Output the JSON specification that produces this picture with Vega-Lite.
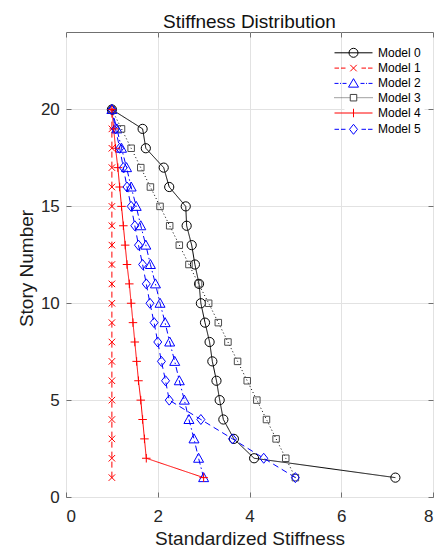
{
  "$schema": "https://vega.github.io/schema/vega-lite/v6.json",
  "width": 367,
  "height": 465,
  "autosize": "none",
  "padding": {"left": 66, "top": 32, "right": 8, "bottom": 52},
  "background": "white",
  "config": {
    "font": "Liberation Sans",
    "view": {"stroke": "#707070", "strokeWidth": 1},
    "axis": {
      "domain": false,
      "tickColor": "#707070",
      "tickSize": -5,
      "labelFont": "Liberation Sans",
      "labelFontSize": 17,
      "labelColor": "#262626",
      "titleFont": "Liberation Sans",
      "titleFontSize": 19,
      "titleFontWeight": "normal",
      "titleColor": "#1a1a1a",
      "gridColor": "#e2e2e2",
      "gridWidth": 1
    }
  },
  "title": {
    "text": "Stiffness Distribution",
    "font": "Liberation Sans",
    "fontSize": 19,
    "fontWeight": "normal",
    "color": "#111111",
    "anchor": "middle",
    "baseline": "alphabetic",
    "offset": 6,
    "dy": 21
  },
  "data": {
    "values": [
      {"m": "Model 0", "s": 1, "k": 7.18}, {"m": "Model 0", "s": 2, "k": 4.10}, {"m": "Model 0", "s": 3, "k": 3.66}, {"m": "Model 0", "s": 4, "k": 3.43}, {"m": "Model 0", "s": 5, "k": 3.35},
      {"m": "Model 0", "s": 6, "k": 3.28}, {"m": "Model 0", "s": 7, "k": 3.19}, {"m": "Model 0", "s": 8, "k": 3.13}, {"m": "Model 0", "s": 9, "k": 3.03}, {"m": "Model 0", "s": 10, "k": 2.94},
      {"m": "Model 0", "s": 11, "k": 2.90}, {"m": "Model 0", "s": 12, "k": 2.81}, {"m": "Model 0", "s": 13, "k": 2.74}, {"m": "Model 0", "s": 14, "k": 2.63}, {"m": "Model 0", "s": 15, "k": 2.61},
      {"m": "Model 0", "s": 16, "k": 2.25}, {"m": "Model 0", "s": 17, "k": 2.13}, {"m": "Model 0", "s": 18, "k": 1.74}, {"m": "Model 0", "s": 19, "k": 1.67}, {"m": "Model 0", "s": 20, "k": 1.00},
      {"m": "Model 1", "s": 1, "k": 1.0}, {"m": "Model 1", "s": 2, "k": 1.0}, {"m": "Model 1", "s": 3, "k": 1.0}, {"m": "Model 1", "s": 4, "k": 1.0}, {"m": "Model 1", "s": 5, "k": 1.0},
      {"m": "Model 1", "s": 6, "k": 1.0}, {"m": "Model 1", "s": 7, "k": 1.0}, {"m": "Model 1", "s": 8, "k": 1.0}, {"m": "Model 1", "s": 9, "k": 1.0}, {"m": "Model 1", "s": 10, "k": 1.0},
      {"m": "Model 1", "s": 11, "k": 1.0}, {"m": "Model 1", "s": 12, "k": 1.0}, {"m": "Model 1", "s": 13, "k": 1.0}, {"m": "Model 1", "s": 14, "k": 1.0}, {"m": "Model 1", "s": 15, "k": 1.0},
      {"m": "Model 1", "s": 16, "k": 1.0}, {"m": "Model 1", "s": 17, "k": 1.0}, {"m": "Model 1", "s": 18, "k": 1.0}, {"m": "Model 1", "s": 19, "k": 1.0}, {"m": "Model 1", "s": 20, "k": 1.0},
      {"m": "Model 2", "s": 1, "k": 3.00}, {"m": "Model 2", "s": 2, "k": 2.89}, {"m": "Model 2", "s": 3, "k": 2.79}, {"m": "Model 2", "s": 4, "k": 2.68}, {"m": "Model 2", "s": 5, "k": 2.58},
      {"m": "Model 2", "s": 6, "k": 2.47}, {"m": "Model 2", "s": 7, "k": 2.37}, {"m": "Model 2", "s": 8, "k": 2.26}, {"m": "Model 2", "s": 9, "k": 2.16}, {"m": "Model 2", "s": 10, "k": 2.05},
      {"m": "Model 2", "s": 11, "k": 1.95}, {"m": "Model 2", "s": 12, "k": 1.84}, {"m": "Model 2", "s": 13, "k": 1.74}, {"m": "Model 2", "s": 14, "k": 1.63}, {"m": "Model 2", "s": 15, "k": 1.53},
      {"m": "Model 2", "s": 16, "k": 1.42}, {"m": "Model 2", "s": 17, "k": 1.32}, {"m": "Model 2", "s": 18, "k": 1.21}, {"m": "Model 2", "s": 19, "k": 1.11}, {"m": "Model 2", "s": 20, "k": 1.00},
      {"m": "Model 3", "s": 1, "k": 5.00}, {"m": "Model 3", "s": 2, "k": 4.79}, {"m": "Model 3", "s": 3, "k": 4.58}, {"m": "Model 3", "s": 4, "k": 4.37}, {"m": "Model 3", "s": 5, "k": 4.16},
      {"m": "Model 3", "s": 6, "k": 3.95}, {"m": "Model 3", "s": 7, "k": 3.74}, {"m": "Model 3", "s": 8, "k": 3.53}, {"m": "Model 3", "s": 9, "k": 3.32}, {"m": "Model 3", "s": 10, "k": 3.11},
      {"m": "Model 3", "s": 11, "k": 2.89}, {"m": "Model 3", "s": 12, "k": 2.68}, {"m": "Model 3", "s": 13, "k": 2.47}, {"m": "Model 3", "s": 14, "k": 2.26}, {"m": "Model 3", "s": 15, "k": 2.05},
      {"m": "Model 3", "s": 16, "k": 1.84}, {"m": "Model 3", "s": 17, "k": 1.63}, {"m": "Model 3", "s": 18, "k": 1.42}, {"m": "Model 3", "s": 19, "k": 1.21}, {"m": "Model 3", "s": 20, "k": 1.00},
      {"m": "Model 4", "s": 1, "k": 3.00}, {"m": "Model 4", "s": 2, "k": 1.75}, {"m": "Model 4", "s": 3, "k": 1.71}, {"m": "Model 4", "s": 4, "k": 1.67}, {"m": "Model 4", "s": 5, "k": 1.63},
      {"m": "Model 4", "s": 6, "k": 1.58}, {"m": "Model 4", "s": 7, "k": 1.54}, {"m": "Model 4", "s": 8, "k": 1.50}, {"m": "Model 4", "s": 9, "k": 1.46}, {"m": "Model 4", "s": 10, "k": 1.42},
      {"m": "Model 4", "s": 11, "k": 1.38}, {"m": "Model 4", "s": 12, "k": 1.33}, {"m": "Model 4", "s": 13, "k": 1.29}, {"m": "Model 4", "s": 14, "k": 1.25}, {"m": "Model 4", "s": 15, "k": 1.21},
      {"m": "Model 4", "s": 16, "k": 1.17}, {"m": "Model 4", "s": 17, "k": 1.13}, {"m": "Model 4", "s": 18, "k": 1.08}, {"m": "Model 4", "s": 19, "k": 1.04}, {"m": "Model 4", "s": 20, "k": 1.00},
      {"m": "Model 5", "s": 1, "k": 5.00}, {"m": "Model 5", "s": 2, "k": 4.31}, {"m": "Model 5", "s": 3, "k": 3.63}, {"m": "Model 5", "s": 4, "k": 2.94}, {"m": "Model 5", "s": 5, "k": 2.25},
      {"m": "Model 5", "s": 6, "k": 2.17}, {"m": "Model 5", "s": 7, "k": 2.08}, {"m": "Model 5", "s": 8, "k": 2.00}, {"m": "Model 5", "s": 9, "k": 1.92}, {"m": "Model 5", "s": 10, "k": 1.83},
      {"m": "Model 5", "s": 11, "k": 1.75}, {"m": "Model 5", "s": 12, "k": 1.67}, {"m": "Model 5", "s": 13, "k": 1.58}, {"m": "Model 5", "s": 14, "k": 1.50}, {"m": "Model 5", "s": 15, "k": 1.42},
      {"m": "Model 5", "s": 16, "k": 1.33}, {"m": "Model 5", "s": 17, "k": 1.25}, {"m": "Model 5", "s": 18, "k": 1.17}, {"m": "Model 5", "s": 19, "k": 1.08}, {"m": "Model 5", "s": 20, "k": 1.00}
    ]
  },
  "layer": [
    {
      "mark": {"type": "line", "strokeWidth": 1},
      "encoding": {
        "x": {
          "field": "k", "type": "quantitative",
          "scale": {"domain": [0, 8], "nice": false, "zero": false},
          "axis": {"orient": "bottom", "values": [0, 2, 4, 6, 8], "title": "Standardized Stiffness", "grid": true, "labelPadding": 16, "titleBaseline": "alphabetic", "titleY": 47}
        },
        "y": {
          "field": "s", "type": "quantitative",
          "scale": {"domain": [0, 24], "nice": false, "zero": false},
          "axis": {"orient": "left", "values": [0, 5, 10, 15, 20], "title": "Story Number", "grid": true, "labelPadding": 11.7, "titleBaseline": "alphabetic", "titleX": -33.3, "titleY": 236, "titleAngle": 270}
        },
        "color": {
          "field": "m", "type": "nominal",
          "scale": {"domain": ["Model 0", "Model 1", "Model 2", "Model 3", "Model 4", "Model 5"], "range": ["#000000", "#ff0000", "#0000ff", "#000000", "#ff0000", "#0000ff"]},
          "legend": null
        },
        "strokeDash": {
          "field": "m", "type": "nominal",
          "scale": {"domain": ["Model 0", "Model 1", "Model 2", "Model 3", "Model 4", "Model 5"], "range": [[1, 0], [6, 4], [6, 3, 1.5, 3], [1, 2.5], [1, 0], [6, 4]]},
          "legend": null
        },
        "order": {"field": "s", "type": "quantitative"}
      }
    },
    {
      "mark": {"type": "point", "filled": false, "strokeWidth": 1, "size": 100, "opacity": 1},
      "encoding": {
        "x": {"field": "k", "type": "quantitative", "axis": null},
        "y": {"field": "s", "type": "quantitative", "axis": null},
        "color": {
          "field": "m", "type": "nominal",
          "scale": {"domain": ["Model 0", "Model 1", "Model 2", "Model 3", "Model 4", "Model 5"], "range": ["#000000", "#ff0000", "#0000ff", "#4d4d4d", "#ff0000", "#0000ff"]},
          "legend": null
        },
        "shape": {
          "field": "m", "type": "nominal",
          "scale": {"domain": ["Model 0", "Model 1", "Model 2", "Model 3", "Model 4", "Model 5"], "range": [
            "M0.92,0A0.92,0.92,0,1,1,-0.92,0A0.92,0.92,0,1,1,0.92,0Z",
            "M-0.65,-0.65L0.65,0.65M-0.65,0.65L0.65,-0.65",
            "M0,-1L1,0.8L-1,0.8Z",
            "M-0.65,-0.65H0.65V0.65H-0.65Z",
            "M-0.85,0H0.85M0,-0.85V0.85",
            "M0,-1L0.8,0L0,1L-0.8,0Z"
          ]},
          "legend": null
        }
      }
    },
    {
      "mark": {"type": "point", "filled": false, "strokeWidth": 1, "size": 100, "opacity": 0},
      "encoding": {
        "x": {"field": "k", "type": "quantitative", "axis": {"orient": "top", "values": [0, 2, 4, 6, 8], "labels": false, "title": null, "grid": false}},
        "y": {"field": "s", "type": "quantitative", "axis": {"orient": "right", "values": [0, 5, 10, 15, 20], "labels": false, "title": null, "grid": false}},
        "color": {
          "field": "m", "type": "nominal",
          "scale": {"domain": ["Model 0", "Model 1", "Model 2", "Model 3", "Model 4", "Model 5"], "range": ["#000000", "#ff0000", "#0000ff", "#404040", "#ff0000", "#0000ff"]},
          "legend": {
            "orient": "none", "legendX": 278.5, "legendY": 11.8, "title": null,
            "labelFont": "Liberation Sans", "labelFontSize": 12, "labelColor": "#000000",
            "symbolSize": 100, "symbolStrokeWidth": 1, "symbolOpacity": 1,
            "labelOffset": 18.5, "rowPadding": 2.3, "padding": 3, "fillColor": "white"
          }
        },
        "shape": {
          "field": "m", "type": "nominal",
          "scale": {"domain": ["Model 0", "Model 1", "Model 2", "Model 3", "Model 4", "Model 5"], "range": [
            "M-3.8,0H3.8M0.9,0A0.9,0.9,0,1,1,-0.9,0A0.9,0.9,0,1,1,0.9,0",
            "M-3.8,0H-2.9M-2.5,0H-1.6M1.6,0H2.5M2.9,0H3.8M-0.65,-0.65L0.65,0.65M-0.65,0.65L0.65,-0.65",
            "M-3.8,0H-3.0M-2.7,0H-2.5M-2.2,0H-1.4M1.4,0H2.2M2.5,0H2.7M3.0,0H3.8M0,-0.95L1,0.75L-1,0.75Z",
            "M-3.8,0H-3.6M-3.4,0H-3.2M-3.0,0H-2.8M-2.6,0H-2.4M-2.2,0H-2.0M-1.8,0H-1.6M-1.4,0H-1.2M-1.0,0H-0.8M0.8,0H1.0M1.2,0H1.4M1.6,0H1.8M2.0,0H2.2M2.4,0H2.6M2.8,0H3.0M3.2,0H3.4M3.6,0H3.8M-0.65,-0.65H0.65V0.65H-0.65Z",
            "M-3.8,0H3.8M0,-0.85V0.85",
            "M-3.8,0H-2.9M-2.5,0H-1.6M1.6,0H2.5M2.9,0H3.8M0,-1L0.8,0L0,1L-0.8,0Z"
          ]}
        }
      }
    }
  ],
  "resolve": {
    "scale": {"color": "independent", "shape": "independent", "strokeDash": "independent"},
    "axis": {"x": "independent", "y": "independent"}
  }
}
